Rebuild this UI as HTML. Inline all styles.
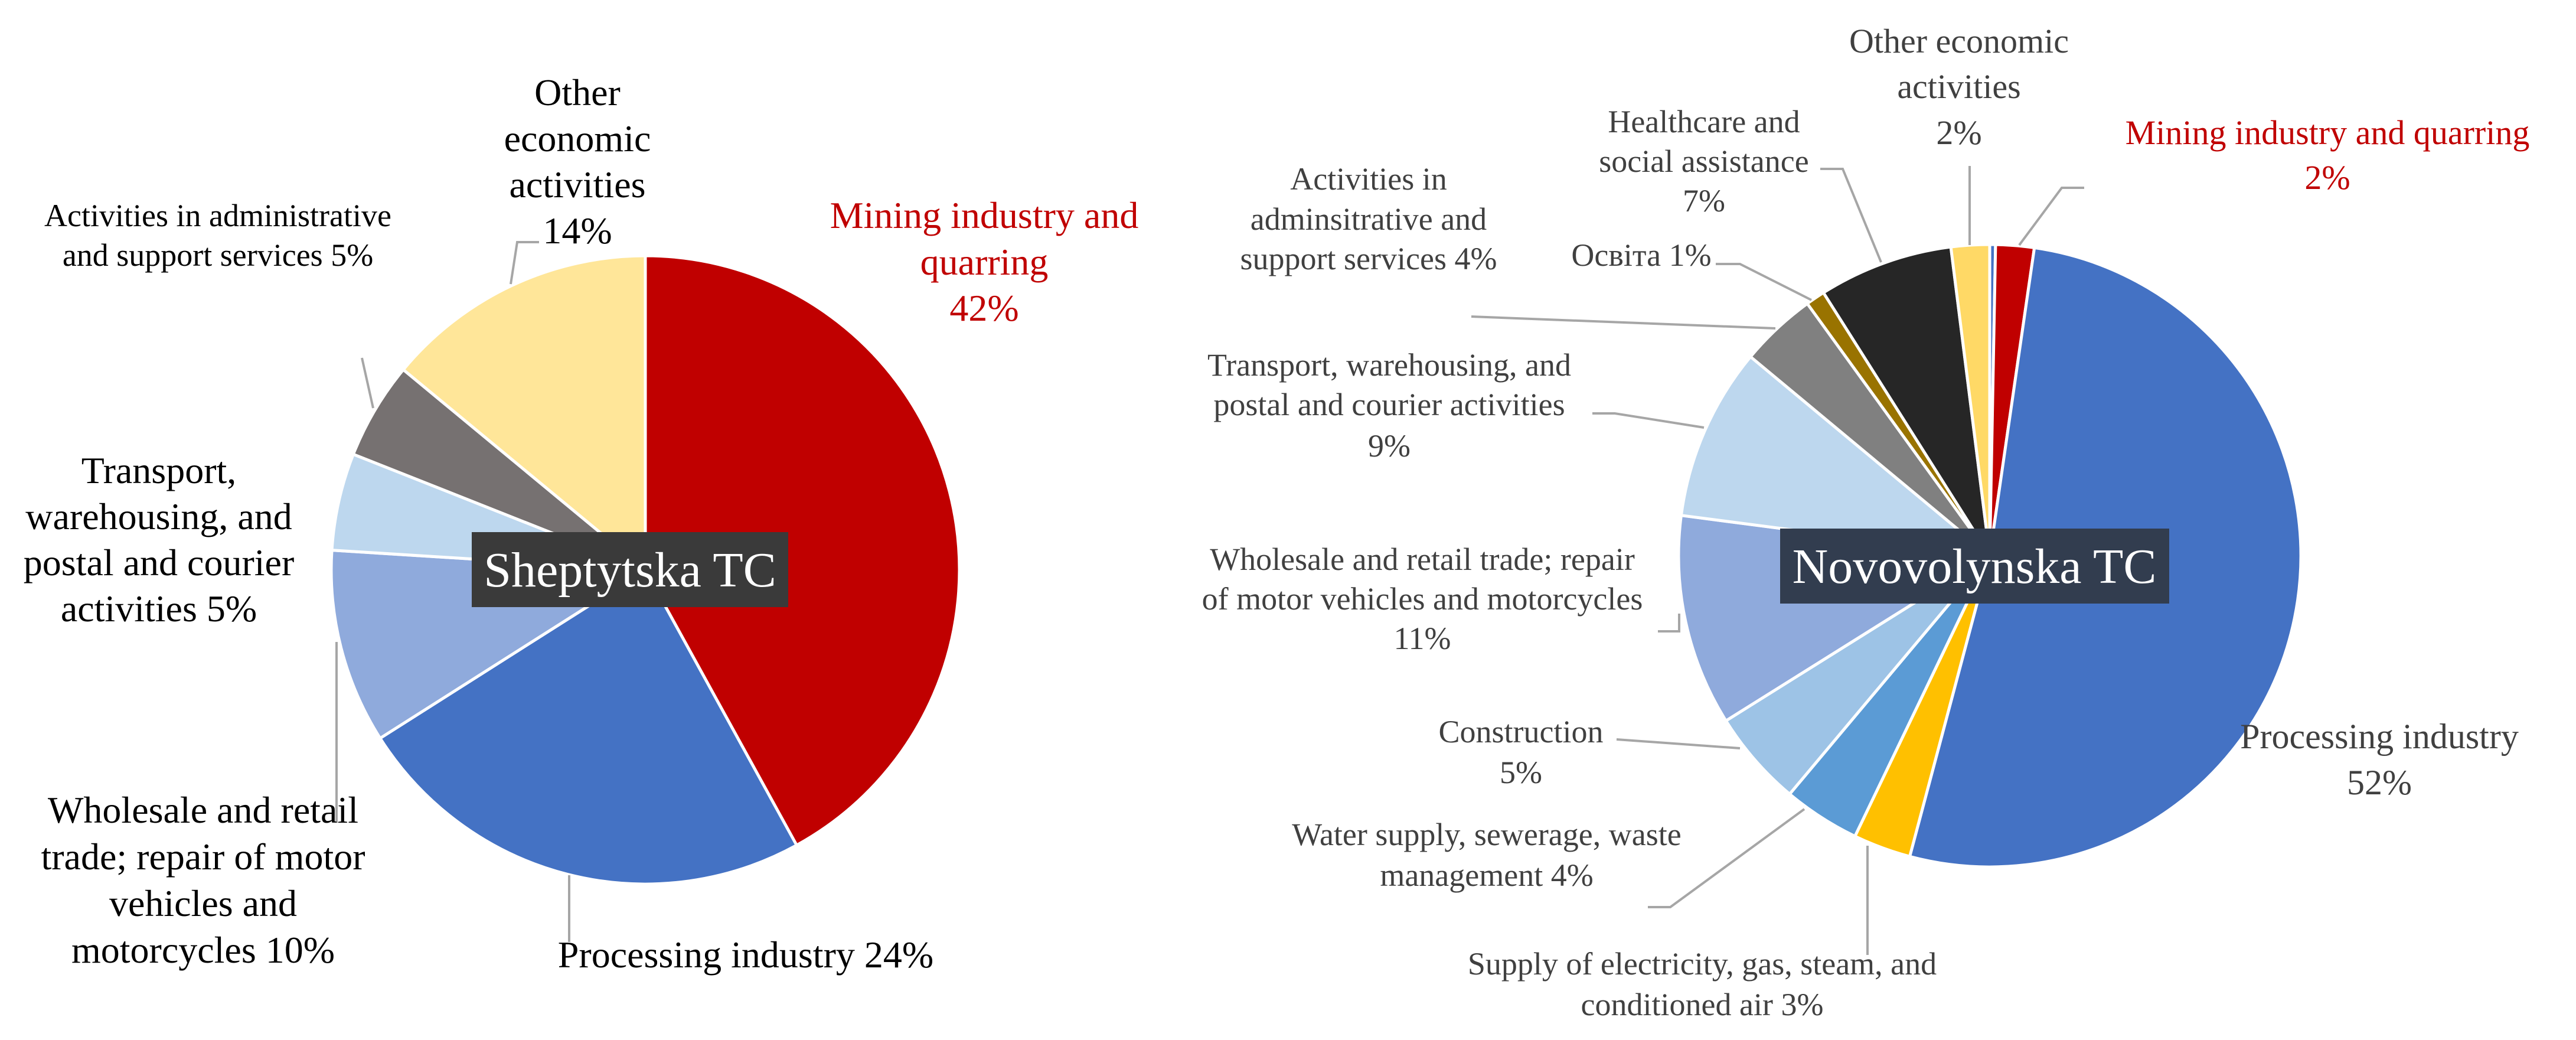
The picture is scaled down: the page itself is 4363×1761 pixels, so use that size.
<!DOCTYPE html>
<html><head><meta charset="utf-8"><style>
html,body{margin:0;padding:0;background:#fff;}
svg{display:block;}
text{font-family:"Liberation Serif",serif;}
</style></head><body>
<svg id="c" width="4363" height="1761" viewBox="0 0 4363 1761" xmlns="http://www.w3.org/2000/svg">
<g id="left"></g>
<g id="right"></g>
<g id="leaders" fill="none" stroke="#a6a6a6" stroke-width="4">
<polyline points="913,410 876,410 865,481"/>
<polyline points="613,606 632,691"/>
<polyline points="570,1087 570,1393"/>
<polyline points="964,1482 964,1595"/>
<polyline points="3530,318 3492,318 3420,415"/>
<polyline points="3336,281 3336,415"/>
<polyline points="3083,286 3121,286 3186,444"/>
<polyline points="2906,447 2947,447 3068,508"/>
<polyline points="2492,536 3007,556"/>
<polyline points="2697,700 2735,700 2886,724"/>
<polyline points="2808,1069 2844,1069 2844,1039"/>
<polyline points="2738,1252 2947,1267"/>
<polyline points="2791,1536 2829,1536 3056,1370"/>
<polyline points="3163,1432 3163,1617"/>
</g>
<g id="labelsL" font-family="'Liberation Serif',serif" font-size="64" fill="#000" text-anchor="middle">
<text x="978" y="178"><tspan x="978">Other</tspan><tspan x="978" dy="78">economic</tspan><tspan x="978" dy="78">activities</tspan><tspan x="978" dy="78">14%</tspan></text>
<text x="1667" y="386" fill="#c00000"><tspan x="1667">Mining industry and</tspan><tspan x="1667" dy="79">quarring</tspan><tspan x="1667" dy="78">42%</tspan></text>
<text x="369" y="383" font-size="54"><tspan x="369">Activities in administrative</tspan><tspan x="369" dy="67">and support services 5%</tspan></text>
<text x="269" y="818"><tspan x="269">Transport,</tspan><tspan x="269" dy="78">warehousing, and</tspan><tspan x="269" dy="78">postal and courier</tspan><tspan x="269" dy="78">activities 5%</tspan></text>
<text x="344" y="1393"><tspan x="344">Wholesale and retail</tspan><tspan x="344" dy="79">trade; repair of motor</tspan><tspan x="344" dy="79">vehicles and</tspan><tspan x="344" dy="79">motorcycles  10%</tspan></text>
<text x="1263" y="1638">Processing industry 24%</text>
</g>
<g id="labelsR" font-family="'Liberation Serif',serif" font-size="54" fill="#404040" text-anchor="middle">
<text x="3318" y="89" font-size="58"><tspan x="3318">Other economic</tspan><tspan x="3318" dy="77">activities</tspan><tspan x="3318" dy="78">2%</tspan></text>
<text x="3942" y="244" fill="#c00000" font-size="58"><tspan x="3942">Mining industry and quarring</tspan><tspan x="3942" dy="76">2%</tspan></text>
<text x="2886" y="224"><tspan x="2886">Healthcare and</tspan><tspan x="2886" dy="67">social assistance</tspan><tspan x="2886" dy="67">7%</tspan></text>
<text x="2318" y="321"><tspan x="2318">Activities in</tspan><tspan x="2318" dy="68">adminsitrative and</tspan><tspan x="2318" dy="67">support services 4%</tspan></text>
<text x="2780" y="450" font-family="'Liberation Serif','Noto Serif CJK SC',serif">Освіта 1%</text>
<text x="2353" y="636"><tspan x="2353">Transport, warehousing, and</tspan><tspan x="2353" dy="67">postal and courier activities</tspan><tspan x="2353" dy="70">9%</tspan></text>
<text x="2409" y="965"><tspan x="2409">Wholesale and retail trade; repair</tspan><tspan x="2409" dy="67">of motor vehicles and motorcycles</tspan><tspan x="2409" dy="67">11%</tspan></text>
<text x="2576" y="1257"><tspan x="2576">Construction</tspan><tspan x="2576" dy="69">5%</tspan></text>
<text x="2518" y="1431"><tspan x="2518">Water supply, sewerage, waste</tspan><tspan x="2518" dy="69">management 4%</tspan></text>
<text x="2883" y="1650"><tspan x="2883">Supply of electricity, gas, steam, and</tspan><tspan x="2883" dy="69">conditioned air 3%</tspan></text>
<text x="4030" y="1267" font-size="60"><tspan x="4030">Processing industry</tspan><tspan x="4030" dy="78">52%</tspan></text>
</g>
<g>
<rect x="799" y="901" width="536" height="127" fill="#3a3a3a"/>
<text x="1067" y="993" font-family="'Liberation Serif',serif" font-size="84" fill="#fff" text-anchor="middle">Sheptytska TC</text>
</g>
<g>
<rect x="3015" y="895" width="659" height="127" fill="#323d4f"/>
<text x="3344" y="987" font-family="'Liberation Serif',serif" font-size="84" fill="#fff" text-anchor="middle">Novovolynska TC</text>
</g>
</svg>
<script>
const leftCategories = ["Mining industry and quarring","Processing industry","Wholesale and retail trade","Transport and warehousing","Administrative and support services","Other economic activities"];
const leftValues = [42,24,10,5,5,14];
const leftColors = ["#c00000","#4472c4","#8faadc","#bdd7ee","#767171","#ffe699"];
const rightCategories = ["Other (minor)","Mining industry and quarring","Processing industry","Supply of electricity","Water supply","Construction","Wholesale and retail trade","Transport and warehousing","Administrative and support services","Education","Healthcare","Other economic activities"];
const rightValues = [0.3,2,52,3,4,5,11,9,4,1,7,2];
const rightColors = ["#4472c4","#c00000","#4472c4","#ffc000","#5b9bd5","#9dc3e6","#8faadc","#bdd7ee","#808080","#997300","#262626","#ffd966"];
function drawPie(g, cats, vals, cols, cx, cy, r, prefix){
  const total = vals.reduce((a,b)=>a+b,0);
  let acc = 0;
  const ns = "http://www.w3.org/2000/svg";
  vals.forEach((v,i)=>{
    const a0 = acc/total*2*Math.PI; acc += v;
    const a1 = acc/total*2*Math.PI;
    const x0 = cx + r*Math.sin(a0), y0 = cy - r*Math.cos(a0);
    const x1 = cx + r*Math.sin(a1), y1 = cy - r*Math.cos(a1);
    const large = (a1-a0) > Math.PI ? 1 : 0;
    const p = document.createElementNS(ns,"path");
    p.setAttribute("d",`M${cx},${cy} L${x0},${y0} A${r},${r} 0 ${large} 1 ${x1},${y1} Z`);
    p.setAttribute("fill",cols[i]);
    p.setAttribute("stroke","#fff");
    p.setAttribute("stroke-width","5");
    p.setAttribute("stroke-linejoin","round");
    
    
    g.appendChild(p);
  });
}
drawPie(document.getElementById("left"), leftCategories, leftValues, leftColors, 1093, 965, 532, "left");
drawPie(document.getElementById("right"), rightCategories, rightValues, rightColors, 3370, 941, 527, "right");
</script>
</body></html>
